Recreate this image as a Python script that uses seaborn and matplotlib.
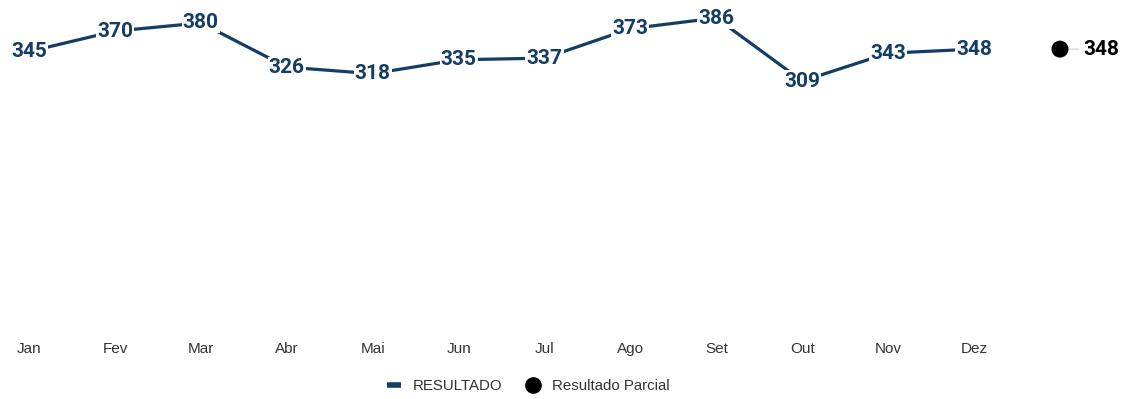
import matplotlib
matplotlib.use("Agg")
import matplotlib.pyplot as plt
from matplotlib.lines import Line2D
import seaborn as sns
import pandas as pd

months = ["Jan", "Fev", "Mar", "Abr", "Mai", "Jun", "Jul", "Ago", "Set", "Out", "Nov", "Dez"]
resultado = [345, 370, 380, 326, 318, 335, 337, 373, 386, 309, 343, 348]
parcial_value = [348]

navy = "#143d66"

sns.set_theme(style="white")
plt.rcParams["font.family"] = ["Liberation Sans", "DejaVu Sans"]

df = pd.DataFrame({"pos": range(len(months)), "mes": months, "valor": resultado})
df_parcial = pd.DataFrame({"pos": [len(months)], "valor": parcial_value})

fig = plt.figure(figsize=(11.27, 3.99), dpi=100)
ax = fig.add_axes([0, 0.163, 1, 0.837])

sns.lineplot(data=df, x="pos", y="valor", ax=ax, color=navy, linewidth=2.3,
             legend=False)
sns.scatterplot(data=df_parcial, x="pos", y="valor", ax=ax, color="black",
                s=150, edgecolor="none", legend=False, zorder=7)

for x, v in zip(df["pos"], df["valor"]):
    ax.text(x, v, str(v), ha="center", va="center", fontsize=15,
            fontweight="bold", family="Roboto", color=navy, zorder=5,
            bbox=dict(facecolor="white", edgecolor="none", pad=0.8))

px, pv = df_parcial["pos"].iloc[0], df_parcial["valor"].iloc[0]
ax.annotate(str(pv), xy=(px, pv), xytext=(17, 0), textcoords="offset points",
            ha="left", va="center", fontsize=15, fontweight="bold",
            family="Roboto", color="black", zorder=5,
            arrowprops=dict(arrowstyle="-", color="#dddddd", lw=1,
                            shrinkA=1, shrinkB=0))

ax.set_xlim(-0.338, 12.78)
ax.set_ylim(0, 408)
ax.set_xticks(range(len(months)))
ax.set_xticklabels(months, fontsize=11, color="#333333")
ax.tick_params(axis="x", length=0, pad=5.5)
ax.set_yticks([])
ax.set_xlabel("")
ax.set_ylabel("")
for s in ax.spines.values():
    s.set_visible(False)
ax.grid(False)

handles = [
    Line2D([0], [0], color=navy, lw=4, solid_capstyle="butt"),
    Line2D([0], [0], marker="o", color="black", linestyle="none", markersize=11),
]
fig.legend(handles, ["RESULTADO", "Resultado Parcial"], loc="center",
           bbox_to_anchor=(0.469, 0.033), ncol=2, frameon=False,
           fontsize=10.8, handlelength=0.9, handletextpad=0.8,
           columnspacing=1.6, labelcolor="#333333")

fig.savefig("out.png", dpi=100)
